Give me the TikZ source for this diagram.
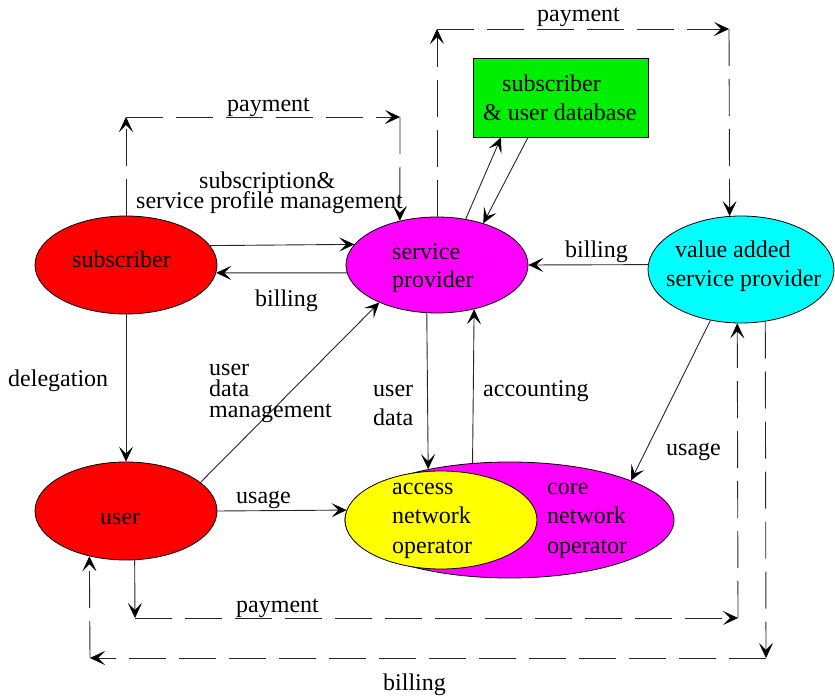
\documentclass[tikz,border=0pt]{standalone}
\usepackage{fontspec}
\setmainfont{Liberation Serif}
\usetikzlibrary{shapes.geometric,arrows.meta}
\definecolor{actred}{RGB}{255,0,0}
\definecolor{actmagenta}{RGB}{255,0,255}
\definecolor{actcyan}{RGB}{0,255,255}
\definecolor{actyellow}{RGB}{255,255,0}
\definecolor{dbgreen}{RGB}{0,238,0}
\begin{document}
\begin{tikzpicture}[x=1pt,y=-1pt,
  font=\fontsize{24}{29}\selectfont,
  oval/.style={draw=black, line width=0.8pt, ellipse, inner sep=0pt},
  lbl/.style={inner sep=0pt, anchor=base west},
  flow/.style={line width=0.9pt, draw=black!85,
    -{Stealth[length=15pt,width=14pt,inset=7pt,line width=0.6pt,black]}},
  money/.style={flow, dash pattern=on 37pt off 13pt},
]
\useasboundingbox (0,0) rectangle (835,700);

% actors
\node[oval, fill=actred, minimum width=182pt, minimum height=98pt] (sub) at (126,265) {};
\node[oval, fill=actmagenta, minimum width=182pt, minimum height=96pt] (sp) at (437,265) {};
\node[oval, fill=actcyan, minimum width=186pt, minimum height=107pt] (vasp) at (741,269.5) {};
\node[oval, fill=actred, minimum width=182pt, minimum height=98pt] (user) at (126,511) {};
\node[oval, fill=actmagenta, minimum width=329pt, minimum height=116pt] (core) at (509.5,520) {};
\node[oval, fill=actyellow, minimum width=192pt, minimum height=98pt] (acc) at (441,520) {};
\node[draw=black, fill=dbgreen, line width=0.8pt, minimum width=175pt, minimum height=79pt, inner sep=0pt] (db) at (560.5,97.5) {};

% actor names
\node[lbl] (subt) at (72,268) {subscriber};
\node[lbl] (spt1) at (392,260) {service};
\node[lbl] (spt2) at (392,288) {provider};
\node[lbl] (vaspt1) at (675,258) {value added};
\node[lbl] (vaspt2) at (666,287) {service provider};
\node[lbl] (usert) at (100,524) {user};
\node[lbl] (acct1) at (392,494) {access};
\node[lbl] (acct2) at (392,523) {network};
\node[lbl] (acct3) at (392,553) {operator};
\node[lbl] (coret1) at (547,494) {core};
\node[lbl] (coret2) at (547,523) {network};
\node[lbl] (coret3) at (547,553) {operator};
\node[lbl] (dbt1) at (502,92) {subscriber};
\node[lbl] (dbt2) at (483,121) {\& user database};

% corners of the money flows
\coordinate (p1a) at (126,117);
\coordinate (p1b) at (400,117);
\coordinate (p2a) at (437,29);
\coordinate (p2b) at (729,29);
\coordinate (p3a) at (135,618);
\coordinate (p3b) at (738,618);
\coordinate (b1a) at (766,658);
\coordinate (b1b) at (90,658);

% solid flows
\draw[flow] (sub.13.5) -- (sp.166.5);
\draw[flow] (sp.185.7) -- (sub.-5.7);
\draw[flow] (sp.58.5) -- ([xshift=-59.5pt]db.south);
\draw[flow] ([xshift=-32.5pt]db.south) -- (sp.42);
\draw[flow] (vasp.177.2) -- (sp.east);
\draw[flow] (sub.south) -- (user.north);
\draw[flow] (user.21) -- (sp.213.3);
\draw[flow] (user.east) -- (acc.174.6);
\draw[flow] (sp.258.2) -- (core.148.9);
\draw[flow] (core.123.2) -- (sp.-50.8);
\draw[flow] (vasp.239.3) -- (core.18.7);

% payment and billing flows
\draw[money] (sub.north) -- (p1a);
\draw[money] (p1a) -- (p1b);
\draw[money] (p1b) -- (sp.130.1);
\draw[money] (sp.north) -- (p2a);
\draw[money] (p2a) -- (p2b);
\draw[money] (p2b) -- (vasp.102.8);
\draw[flow] (user.280.4) -- (p3a);
\draw[money] (p3a) -- (p3b);
\draw[money] (p3b) -- (vasp.266.8);
\draw[money] (vasp.295.9) -- (b1a);
\draw[money] (b1a) -- (b1b);
\draw[money] (b1b) -- (user.231.3);

% flow labels
\node[lbl] (lpay1) at (227,112) {payment};
\node[lbl] (lsub1) at (199,189) {subscription\&};
\node[lbl] (lsub2) at (136,209) {service profile management};
\node[lbl] (lbill1) at (255,307) {billing};
\node[lbl] (lpay2) at (537,22) {payment};
\node[lbl] (lbill2) at (565,258) {billing};
\node[lbl] (ldel) at (8,386) {delegation};
\node[lbl] (lud1) at (209,376) {user};
\node[lbl] (lud2) at (209,396) {data};
\node[lbl] (lud3) at (209,417) {management};
\node[lbl] (ldat1) at (373,396) {user};
\node[lbl] (ldat2) at (373,425) {data};
\node[lbl] (lacc) at (483,396) {accounting};
\node[lbl] (luse1) at (666,455) {usage};
\node[lbl] (luse2) at (236,503) {usage};
\node[lbl] (lpay3) at (236,612) {payment};
\node[lbl] (lbill3) at (383,690) {billing};
\end{tikzpicture}
\end{document}
